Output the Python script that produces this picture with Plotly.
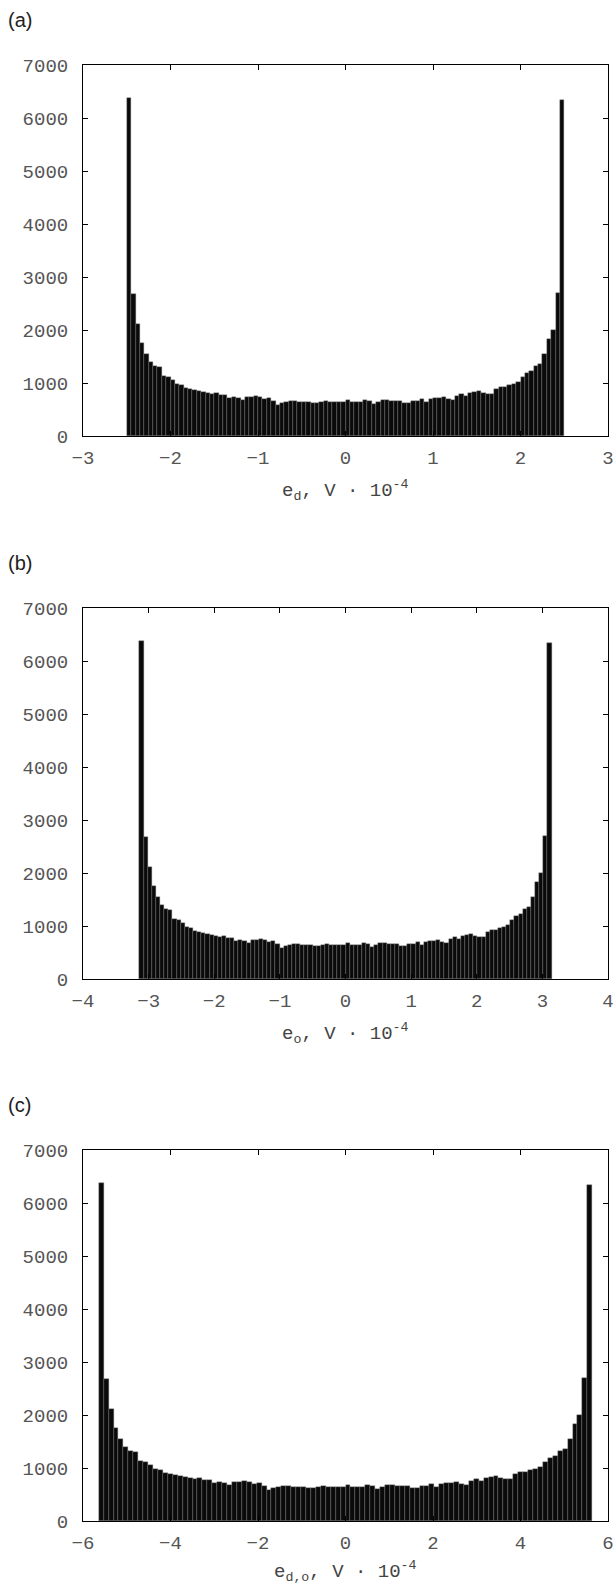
import numpy as np
import plotly.graph_objects as go

# Histogram counts (100 bins) (same shape in all panels)
counts = [6380, 2673, 2107, 1748, 1541, 1390, 1321, 1302, 1132, 1113,
          1057, 987, 956, 906, 887, 868, 855, 830, 811, 786,
          805, 767, 780, 720, 736, 711, 679, 742, 736, 761,
          742, 698, 711, 660, 585, 616, 641, 666, 660, 635,
          648, 648, 616, 616, 641, 654, 641, 641, 648, 635,
          679, 641, 641, 641, 679, 654, 597, 648, 679, 679,
          660, 660, 666, 616, 616, 660, 660, 698, 641, 698,
          723, 723, 742, 692, 679, 761, 786, 761, 811, 830,
          855, 811, 799, 799, 887, 925, 925, 962, 975, 1013,
          1107, 1182, 1226, 1321, 1352, 1541, 1824, 2000, 2692, 6340]

panel_labels = ["(a)", "(b)", "(c)"]
data_limits = [2.5, 3.14, 5.64]        # half-width of the histogram support
axis_limits = [3, 4, 6]
axis_dticks = [1, 1, 2]
axis_titles = ["e<sub>d</sub>, V · 10<sup>-4</sup>",
               "e<sub>o</sub>, V · 10<sup>-4</sup>",
               "e<sub>d,o</sub>, V · 10<sup>-4</sup>"]
y_ticks = [0, 1000, 2000, 3000, 4000, 5000, 6000, 7000]

W, H = 614, 1586
frame_left, frame_right = 83, 608
frame_tops = [65, 608, 1150]
frame_h = 371
title_offsets = [54, 54, 50]

tick_font = dict(family="Liberation Mono, Courier New, monospace", size=19, color="#555555")

fig = go.Figure()
for i in range(3):
    lim = data_limits[i]
    edges = np.linspace(-lim, lim, len(counts) + 1)
    centers = (edges[:-1] + edges[1:]) / 2
    width = edges[1] - edges[0]
    xa = "x" if i == 0 else f"x{i+1}"
    ya = "y" if i == 0 else f"y{i+1}"
    fig.add_trace(go.Bar(x=centers, y=counts, width=width,
                         marker=dict(color="#0a0a0a", line=dict(color="#7a7a7a", width=0.4)),
                         xaxis=xa, yaxis=ya, showlegend=False))
    top = frame_tops[i]
    bot = top + frame_h
    ydom = [1 - bot / H, 1 - top / H]
    xdom = [frame_left / W, frame_right / W]
    suffix = "" if i == 0 else str(i + 1)
    fig.update_layout(**{
        f"xaxis{suffix}": dict(domain=xdom, anchor=ya, range=[-axis_limits[i], axis_limits[i]],
                               dtick=axis_dticks[i], tick0=0, ticks="inside", ticklen=5,
                               tickcolor="black", showline=True, linecolor="black", linewidth=1,
                               mirror="ticks", showgrid=False, zeroline=False, automargin=False,
                               tickfont=tick_font, ticklabelstandoff=4),
        f"yaxis{suffix}": dict(domain=ydom, anchor=xa, range=[0, 7000], tickvals=y_ticks,
                               ticks="inside", ticklen=5, tickcolor="black", showline=True,
                               linecolor="black", linewidth=1, mirror="ticks", showgrid=False,
                               zeroline=False, automargin=False, tickfont=tick_font,
                               ticklabelstandoff=10),
    })
    fig.add_annotation(text=axis_titles[i], xref="paper", yref="paper",
                       x=(frame_left + frame_right) / 2 / W, y=1 - (bot + title_offsets[i]) / H,
                       xanchor="center", yanchor="middle", showarrow=False,
                       font=dict(family="Liberation Mono, Courier New, monospace", size=19, color="#444444"))
    fig.add_annotation(text=panel_labels[i], xref="paper", yref="paper",
                       x=6 / W, y=1 - (top - 45) / H, xanchor="left", yanchor="middle",
                       showarrow=False,
                       font=dict(family="Liberation Sans, Arial, sans-serif", size=20, color="#222222"))

fig.update_layout(width=W, height=H, margin=dict(l=0, r=0, t=0, b=0, autoexpand=False),
                  paper_bgcolor="white", plot_bgcolor="white", bargap=0)

fig.write_html("out.html", config={"displayModeBar": False},
               post_script="document.body.style.margin='0px';document.body.style.overflow='hidden';")
